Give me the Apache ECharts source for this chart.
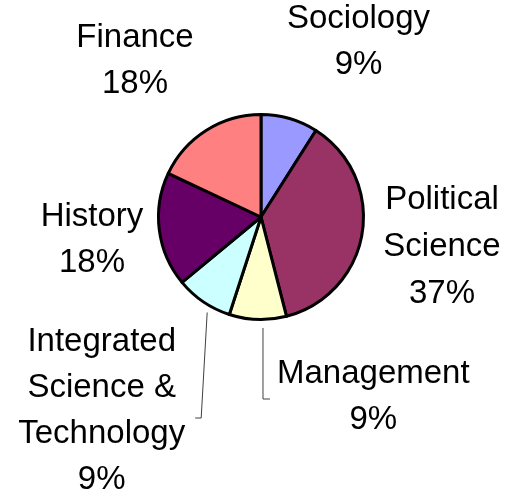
<!DOCTYPE html>
<html>
<head>
<meta charset="utf-8">
<style>
  html, body { margin: 0; padding: 0; background: #ffffff; }
  #chart { width: 506px; height: 501px; }
</style>
<script src="https://cdn.jsdelivr.net/npm/echarts@6/dist/echarts.min.js"></script>
</head>
<body>
<div id="chart"></div>
<script>
// ---- Data ----
const categories = ['Sociology', 'Political\nScience', 'Management', 'Integrated\nScience &\nTechnology', 'History', 'Finance'];
const values = [9, 37, 9, 9, 18, 18];
const colors = ['#9999FF', '#993366', '#FFFFCC', '#CCFFFF', '#660066', '#FF8080'];
const showLeader = [false, false, true, true, false, false];

// ---- Layout (label placement only) ----
const pieCenter = [261, 217];
const pieRadius = 102.5;
const labelPos = [[358.5, 41.8], [442, 246.8], [369.8, 396.7], [106.7, 411.4], [92, 240.4], [135, 61.3]];
const labelLineHeights = [46, 47, 46, 46, 46, 46];
const labelPadding = [[0,0,0,0], [0,0,0,0], [0,0,0,7], [0,10,0,0], [0,0,0,0], [0,0,0,0]];
// leader-line shape: which side of the label it attaches to, elbow length, slant, gap from pie, elbow y offset
const leaderCfg = {
  2: { side: 'left', len2: 7, slant: 0, gap: 7, dy: 2.3 },
  3: { side: 'right', len2: 6, slant: 6, gap: 6.5, dy: 6.6 }
};

const chart = echarts.init(document.getElementById('chart'), null, { renderer: 'canvas' });

const data = categories.map((name, i) => ({
  name: name,
  value: values[i],
  itemStyle: { color: colors[i] },
  label: { lineHeight: labelLineHeights[i], padding: labelPadding[i] },
  labelLine: { show: showLeader[i], length: 10, length2: 7 }
}));

chart.setOption({
  backgroundColor: '#ffffff',
  animation: false,
  series: [{
    type: 'pie',
    center: pieCenter,
    radius: pieRadius,
    startAngle: 90,
    clockwise: true,
    percentPrecision: 0,
    avoidLabelOverlap: false,
    itemStyle: { borderColor: '#000000', borderWidth: 3 },
    label: {
      show: true,
      position: 'outside',
      formatter: '{b}\n{d}%',
      fontFamily: 'Liberation Sans, Arial, sans-serif',
      fontSize: 33,
      color: '#000000',
      align: 'center'
    },
    labelLine: {
      smooth: false,
      lineStyle: { color: '#404040', width: 1 }
    },
    labelLayout: function (params) {
      const i = params.dataIndex;
      const p = labelPos[i];
      const out = { x: p[0], y: p[1], align: 'center', verticalAlign: 'middle' };
      const cfg = leaderCfg[i];
      if (cfg) {
        const w = params.labelRect.width;
        const R = pieRadius + 1.5;
        const edgeX = cfg.side === 'left' ? p[0] - w / 2 : p[0] + w / 2;
        const elbowX = cfg.side === 'left' ? edgeX - cfg.len2 : edgeX + cfg.len2;
        const startX = elbowX + cfg.slant;
        const startY = pieCenter[1] + Math.sqrt(R * R - Math.pow(startX - pieCenter[0], 2)) + cfg.gap;
        const y = p[1] + cfg.dy;
        out.labelLinePoints = [[startX, startY], [elbowX, y], [edgeX, y]];
      }
      return out;
    },
    emphasis: { disabled: true },
    data: data
  }]
});
</script>
</body>
</html>
